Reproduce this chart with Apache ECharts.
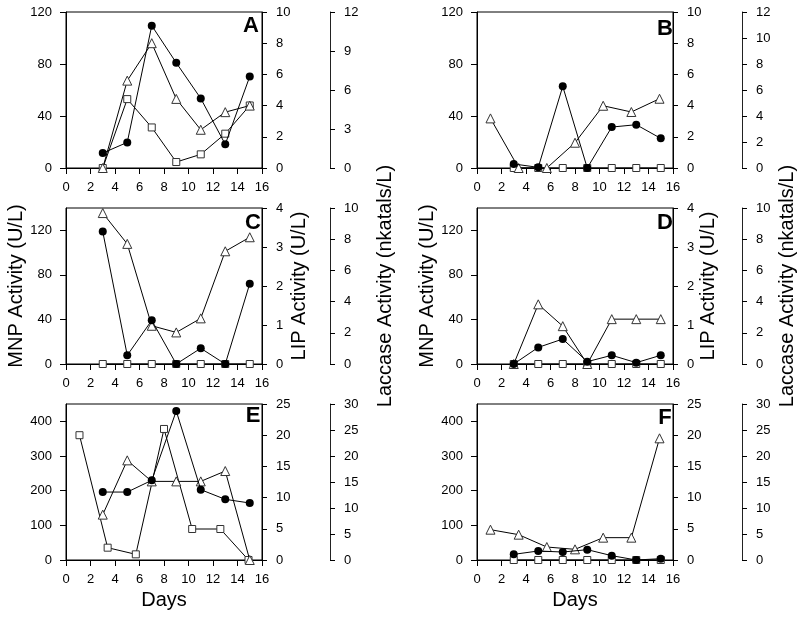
<!DOCTYPE html>
<html>
<head>
<meta charset="utf-8">
<script src="https://cdn.jsdelivr.net/npm/echarts@6/dist/echarts.min.js"></script>
<style>html,body{margin:0;padding:0;background:#fff}#c{width:800px;height:617px}</style>
</head>
<body>
<div id="c"></div>
<script>
// x positions (days)
var daysOdd = [3, 5, 7, 9, 11, 13, 15];
var daysAlt = [1.1, 3.4, 5.7, 8.0, 10.3, 12.6, 14.9];
var xTicks = [0, 2, 4, 6, 8, 10, 12, 14, 16];

// Panel A
var mnpA = [11.5, 19.7, 109.5, 80.9, 53.5, 18.2, 70.4];
var lipA = [0, 5.6, 8.0, 4.43, 2.45, 3.58, 4.0];
var lacA = [0, 5.3, 3.12, 0.46, 1.05, 2.64, 4.81];
// Panel B
var mnpB = [3.1, 0.5, 62.8, 0, 31.5, 33.3, 22.8];
var lipB = [3.18, 0, 0, 1.62, 3.99, 3.59, 4.44];
var lacB = [0, 0, 0, 0, 0, 0, 0];
// Panel C
var mnpC = [118.8, 7.8, 39.2, 0, 14.1, 0, 72.1];
var lipC = [3.87, 3.08, 0.98, 0.81, 1.17, 2.89, 3.25];
var lacC = [0, 0, 0, 0, 0, 0, 0];
// Panel D
var mnpD = [0, 14.9, 22.4, 2.1, 7.8, 1.2, 7.8];
var lipD = [0, 1.53, 0.97, 0, 1.15, 1.15, 1.15];
var lacD = [0, 0, 0, 0, 0, 0, 0];
// Panel E
var mnpE = [196, 196, 229.8, 429.8, 202.9, 175, 164.4];
var lipE = [7.27, 15.97, 12.6, 12.6, 12.6, 14.26, 0];
var lacE = [24.0, 2.37, 1.09, 25.2, 5.96, 5.96, 0];
// Panel F
var mnpF = [16.3, 26, 23, 29.8, 12.5, 0, 3.8];
var lipF = [4.86, 4.06, 2.08, 1.71, 3.58, 3.58, 19.5];
var lacF = [0, 0, 0, 0, 0, 0, 0];

// tick labels of MNP axes
var mnpTicksAB = [0, 40, 80, 120];
var mnpTicksCD = [0, 40, 80, 120];
var mnpTicksEF = [0, 100, 200, 300, 400];

var panelLetters = ['A', 'B', 'C', 'D', 'E', 'F'];
var mnpTitle = 'MNP Activity (U/L)';
var lipTitle = 'LIP Activity (U/L)';
var lacTitle = 'Laccase Activity (nkatals/L)';
var xTitle = 'Days';

var FONT = 'Liberation Sans, Arial, Helvetica, sans-serif';

var panels = [
  {letter: 0, mnp: mnpA, lip: lipA, lac: lacA, xm: daysOdd, xl: daysOdd, xq: daysOdd,
   mnpMax: 120, mnpT: mnpTicksAB, lipMax: 10, lipI: 2, lacMax: 12, lacI: 3},
  {letter: 1, mnp: mnpB, lip: lipB, lac: lacB, xm: daysOdd, xl: daysAlt, xq: daysOdd,
   mnpMax: 120, mnpT: mnpTicksAB, lipMax: 10, lipI: 2, lacMax: 12, lacI: 2},
  {letter: 2, mnp: mnpC, lip: lipC, lac: lacC, xm: daysOdd, xl: daysOdd, xq: daysOdd,
   mnpMax: 140, mnpT: mnpTicksCD, lipMax: 4, lipI: 1, lacMax: 10, lacI: 2},
  {letter: 3, mnp: mnpD, lip: lipD, lac: lacD, xm: daysOdd, xl: daysOdd, xq: daysOdd,
   mnpMax: 140, mnpT: mnpTicksCD, lipMax: 4, lipI: 1, lacMax: 10, lacI: 2},
  {letter: 4, mnp: mnpE, lip: lipE, lac: lacE, xm: daysOdd, xl: daysOdd, xq: daysAlt,
   mnpMax: 450, mnpT: mnpTicksEF, lipMax: 25, lipI: 5, lacMax: 30, lacI: 5},
  {letter: 5, mnp: mnpF, lip: lipF, lac: lacF, xm: daysOdd, xl: daysAlt, xq: daysOdd,
   mnpMax: 450, mnpT: mnpTicksEF, lipMax: 25, lipI: 5, lacMax: 30, lacI: 5}
];

// layout
var colLeft = [66, 477];
var colFar = [68, 69];
var rowTop = [12, 208, 404];
var gw = 196, gh = 156;
var letterPos = [[251, 26], [665, 29], [253, 223], [665, 223], [253, 416], [665, 418]];

function pairs(xs, ys) { return xs.map(function (x, i) { return [x, ys[i]]; }); }

var lineCol = '#000';
var labelStyle = {color: '#000', fontSize: 13, fontFamily: FONT, margin: 14};
var tickStyle = {show: true, length: 5, lineStyle: {color: lineCol, width: 1}};

var grids = [], xAxes = [], yAxes = [], series = [], graphics = [];

panels.forEach(function (p, k) {
  var col = k % 2, row = Math.floor(k / 2);
  grids.push({left: colLeft[col], top: rowTop[row], width: gw, height: gh,
    show: true, borderColor: '#000', borderWidth: 1, backgroundColor: 'transparent'});
  var xa = {type: 'value', gridIndex: k, min: 0, max: 16, interval: 2,
    axisLine: {show: true, onZero: false, lineStyle: {color: lineCol, width: 1}},
    axisTick: {show: true, length: 6, lineStyle: {color: lineCol}},
    axisLabel: Object.assign({}, labelStyle, {margin: 13}),
    splitLine: {show: false}};
  if (row === 2) {
    xa.name = xTitle; xa.nameLocation = 'middle'; xa.nameGap = 30;
    xa.nameTextStyle = {fontSize: 20, fontFamily: FONT, color: '#000'};
  }
  xAxes.push(xa);

  var base = yAxes.length;
  var ym = {type: 'value', gridIndex: k, position: 'left', min: 0, max: p.mnpMax,
    axisLine: {show: true, lineStyle: {color: lineCol, width: 1}},
    axisTick: Object.assign({}, tickStyle, {length: 6, customValues: p.mnpT}),
    axisLabel: Object.assign({}, labelStyle, {customValues: p.mnpT}),
    splitLine: {show: false}};
  var yl = {type: 'value', gridIndex: k, position: 'right', min: 0, max: p.lipMax, interval: p.lipI,
    axisLine: {show: true, lineStyle: {color: lineCol, width: 1}},
    axisTick: tickStyle, axisLabel: labelStyle, splitLine: {show: false}};
  var yq = {type: 'value', gridIndex: k, position: 'right', offset: colFar[col], min: 0, max: p.lacMax, interval: p.lacI,
    axisLine: {show: true, lineStyle: {color: '#222', width: 1}},
    axisTick: tickStyle, axisLabel: labelStyle, splitLine: {show: false}};
  if (row === 1) {
    var nts = {fontSize: 20, fontFamily: FONT, color: '#000'};
    ym.name = mnpTitle; ym.nameLocation = 'middle'; ym.nameGap = col === 0 ? 40 : 37; ym.nameTextStyle = nts;
    yl.name = lipTitle; yl.nameLocation = 'middle'; yl.nameGap = col === 0 ? 27 : 22; yl.nameTextStyle = nts;
    yq.name = lacTitle; yq.nameLocation = 'middle'; yq.nameGap = col === 0 ? 45 : 35; yq.nameTextStyle = nts;
  }
  yAxes.push(ym, yl, yq);

  var common = {type: 'line', xAxisIndex: k, animation: false, lineStyle: {color: '#000', width: 1}};
  series.push(Object.assign({}, common, {yAxisIndex: base + 2, data: pairs(p.xq, p.lac),
    symbol: 'rect', symbolSize: 7, z: 2,
    itemStyle: {color: '#fff', borderColor: '#333', borderWidth: 1}}));
  series.push(Object.assign({}, common, {yAxisIndex: base + 1, data: pairs(p.xl, p.lip),
    symbol: 'triangle', symbolSize: 9, z: 3,
    itemStyle: {color: '#fff', borderColor: '#333', borderWidth: 1}}));
  series.push(Object.assign({}, common, {yAxisIndex: base, data: pairs(p.xm, p.mnp),
    symbol: 'circle', symbolSize: 8, z: 4,
    itemStyle: {color: '#000', borderColor: '#000', borderWidth: 0}}));

  graphics.push({type: 'text', x: letterPos[k][0], y: letterPos[k][1], z: 10,
    style: {text: panelLetters[p.letter], font: 'bold 22px ' + FONT, fill: '#000',
      textAlign: 'center', textVerticalAlign: 'middle'}});
});

var chart = echarts.init(document.getElementById('c'), null, {renderer: 'canvas'});
chart.setOption({
  backgroundColor: '#fff',
  animation: false,
  grid: grids, xAxis: xAxes, yAxis: yAxes, series: series, graphic: graphics
});
</script>
</body>
</html>
